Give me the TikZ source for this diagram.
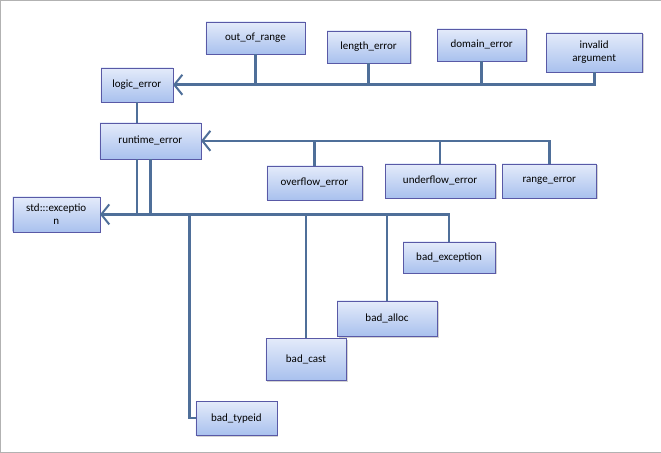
\documentclass[tikz,border=0pt]{standalone}
\usepackage{fontspec}
\setmainfont{Carlito}
\usetikzlibrary{arrows.meta,shadows}
\definecolor{linkblue}{HTML}{4F6F99}
\definecolor{boxtop}{HTML}{E4EBFA}
\definecolor{boxbottom}{HTML}{A9C1EE}
\begin{document}
\begin{tikzpicture}[
        x=1pt, y=-1pt,
        box/.style={draw=gray!70!blue, top color=boxtop, bottom color=boxbottom,
            drop shadow={shadow xshift=1.5pt, shadow yshift=-1.5pt, opacity=0.35},
            inner sep=1pt, align=center, font=\fontsize{11}{13}\selectfont}, % Box styling
        link/.style={draw=linkblue, line width=2.6pt}, % Line styling
        arrow/.style={link, -{Straight Barb[length=8pt, width=20pt, line width=2pt]}} % Arrow styling
        ]
        \draw[gray!60] (0.5,0.5) rectangle (660.5,452.5);

        % Define nodes
        \node (logic) [box, minimum width=72pt, minimum height=34pt] at (137,85) {logic\_error};
        \node (runtime) [box, minimum width=101pt, minimum height=36pt] at (150.5,141) {runtime\_error};
        \node (std) [box, minimum width=87pt, minimum height=35pt] at (56.5,214.5) {std:::exceptio\\n};

        \node (range) [box, minimum width=99pt, minimum height=32pt] at (255.5,38) {out\_of\_range};
        \node (length) [box, minimum width=83pt, minimum height=32pt] at (368.5,47) {length\_error};
        \node (domain) [box, minimum width=89pt, minimum height=32pt] at (481.5,45) {domain\_error};
        \node (invalid) [box, minimum width=96pt, minimum height=39pt] at (594,52.5) {invalid\\argument};

        \node (overflow) [box, minimum width=95pt, minimum height=34pt] at (314.5,183) {overflow\_error};
        \node (underflow) [box, minimum width=110pt, minimum height=34pt] at (440,181) {underflow\_error};
        \node (rangeerr) [box, minimum width=94pt, minimum height=34pt] at (549,181) {range\_error};

        \node (badexc) [box, minimum width=92pt, minimum height=31pt] at (449,257.5) {bad\_exception};
        \node (badalloc) [box, minimum width=100pt, minimum height=35pt] at (387,318.5) {bad\_alloc};
        \node (badcast) [box, minimum width=80pt, minimum height=42pt] at (306,359) {bad\_cast};
        \node (badtypeid) [box, minimum width=81pt, minimum height=34pt] at (236.5,418) {bad\_typeid};

        % Draw logic_error branch
        \draw[arrow] (invalid.south) |- (logic.east);
        \draw[link] (range.south) -- (range.south |- logic.east);
        \draw[link] (length.south) -- (length.south |- logic.east);
        \draw[link] (domain.south) -- (domain.south |- logic.east);

        % Draw runtime_error branch
        \draw[arrow] (rangeerr.north) |- (runtime.east);
        \draw[link] (overflow.north) -- (overflow.north |- runtime.east);
        \draw[link] (underflow.north) -- (underflow.north |- runtime.east);

        % Draw std::exception branch
        \draw[link] (logic.south) -- (logic.south |- runtime.north);
        \draw[link] (logic.south |- runtime.south) |- (std.east);
        \draw[link] (runtime.south) |- (std.east);
        \draw[arrow] (badexc.north) |- (std.east);
        \draw[link] (badalloc.north) -- (badalloc.north |- std.east);
        \draw[link] (badcast.north) -- (badcast.north |- std.east);
        \draw[link] (badtypeid.west) -- ++(-6,0) |- (std.east);

\end{tikzpicture}
\end{document}
